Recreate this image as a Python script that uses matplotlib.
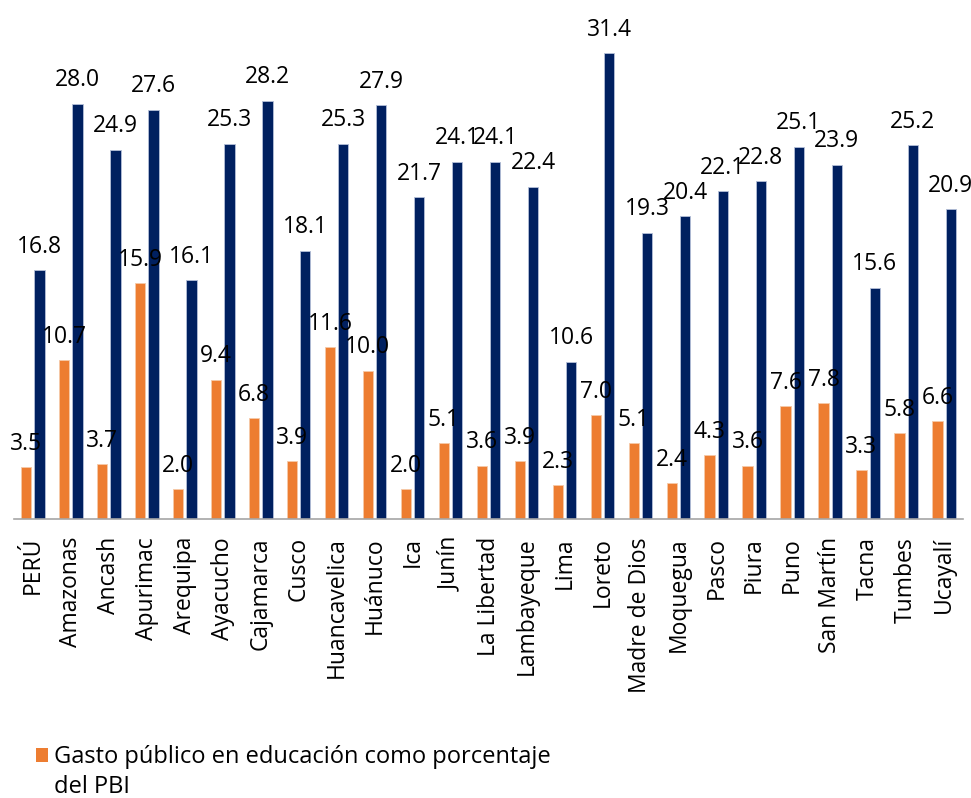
import matplotlib
matplotlib.use("Agg")
import matplotlib.pyplot as plt
from matplotlib.patches import Rectangle
import numpy as np

plt.rcParams['font.family'] = ['Open Sans', 'DejaVu Sans']

regiones = ["PERÚ", "Amazonas", "Ancash", "Apurimac", "Arequipa", "Ayacucho",
            "Cajamarca", "Cusco", "Huancavelica", "Huánuco", "Ica", "Junín",
            "La Libertad", "Lambayeque", "Lima", "Loreto", "Madre de Dios",
            "Moquegua", "Pasco", "Piura", "Puno", "San Martín", "Tacna",
            "Tumbes", "Ucayalí"]

# gasto público en educación (% del PBI)
gasto_pbi = [3.5, 10.7, 3.7, 15.9, 2.0, 9.4, 6.8, 3.9, 11.6, 10.0, 2.0, 5.1,
             3.6, 3.9, 2.3, 7.0, 5.1, 2.4, 4.3, 3.6, 7.6, 7.8, 3.3, 5.8, 6.6]

# segunda serie (barras azules)
serie_azul = [16.8, 28.0, 24.9, 27.6, 16.1, 25.3, 28.2, 18.1, 25.3, 27.9, 21.7,
              24.1, 24.1, 22.4, 10.6, 31.4, 19.3, 20.4, 22.1, 22.8, 25.1, 23.9,
              15.6, 25.2, 20.9]

naranja = "#ED7D31"
azul = "#002060"
fs = 16.5

fig = plt.figure(figsize=(9.71, 7.98), dpi=100)
ax = fig.add_axes([14 / 971, 1 - 519 / 798, 949 / 971, 519 / 798])

x = np.arange(len(regiones))
w = 0.27
off = 0.175
b1 = ax.bar(x - off, gasto_pbi, w, color=naranja, edgecolor="#f6c9a8", linewidth=0.6)
b2 = ax.bar(x + off, serie_azul, w, color=azul, edgecolor="#b4c0d8", linewidth=0.6)

for bars, vals in ((b1, gasto_pbi), (b2, serie_azul)):
    for rect, v in zip(bars, vals):
        ax.annotate(f"{v:.1f}", (rect.get_x() + rect.get_width() / 2, v),
                    xytext=(0, 12.5), textcoords="offset points",
                    ha="center", va="baseline", fontsize=fs, color="black",
                    annotation_clip=False)

ax.set_xlim(-0.5, len(regiones) - 0.5)
ax.set_ylim(0, 35)
ax.set_xticks(x)
ax.set_xticklabels(regiones, rotation=90, fontsize=fs)
ax.tick_params(axis="x", length=0, pad=13)
ax.set_yticks([])
for s in ("top", "right", "left"):
    ax.spines[s].set_visible(False)
ax.spines["bottom"].set_color("#a6a6a6")
ax.spines["bottom"].set_linewidth(1.2)

# leyenda (solo la serie naranja)
fig.patches.append(Rectangle((36 / 971, 1 - 762 / 798), 12 / 971, 14 / 798,
                             transform=fig.transFigure, facecolor=naranja,
                             edgecolor="none"))
fig.text(54 / 971, 1 - 763 / 798, "Gasto público en educación como porcentaje",
         fontsize=17, va="baseline", ha="left")
fig.text(54 / 971, 1 - 793 / 798, "del PBI", fontsize=17, va="baseline", ha="left")

fig.savefig("out.png", dpi=100)
